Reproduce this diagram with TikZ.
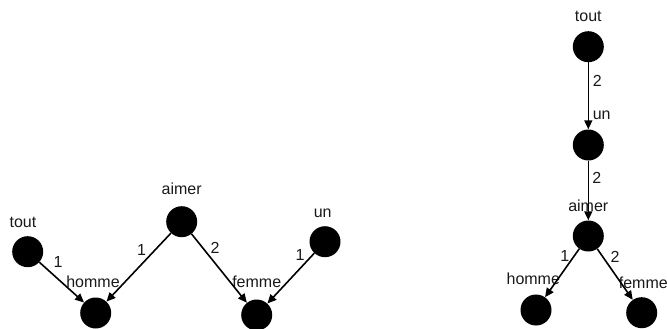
\documentclass[tikz,border=0pt]{standalone}
\usepackage{fontspec}
\setmainfont{Liberation Sans}
\usetikzlibrary{arrows.meta}

\tikzset{
  vertex/.style={circle, fill=black, minimum size=31pt, inner sep=0pt},
  lbl/.style={inner sep=0pt, font=\fontsize{16}{16}\selectfont, text=black!90},
  arr/.style={line width=1.6pt, -{Triangle[length=9pt,width=8pt]}},
  elab/.style={inner sep=0pt, font=\fontsize{16}{16}\selectfont, text=black!90},
}

\begin{document}
\begin{tikzpicture}[x=1pt, y=-1pt]
  \useasboundingbox (0,0) rectangle (667,329);

  % left graph
  \node[vertex, label={[lbl, label distance=8pt, xshift=-4.7pt]above:tout}]  (toutL)  at (27.7,251.7) {};
  \node[vertex, label={[lbl, label distance=9pt, xshift=-2.7pt]above:homme}] (hommeL) at (95.7,313) {};
  \node[vertex, label={[lbl, label distance=11pt]above:aimer}]               (aimerL) at (181.7,221.7) {};
  \node[vertex, label={[lbl, label distance=11pt]above:femme}]               (femmeL) at (256.7,315) {};
  \node[vertex, label={[lbl, label distance=8pt, xshift=-2.3pt]above:un}]    (unL)    at (325,241.7) {};

  \draw[arr] (toutL)  -- node[elab, pos=0.23, xshift=8.5pt,  yshift=9.4pt] (l1) {1} (hommeL);
  \draw[arr] (aimerL) -- node[elab, pos=0.345, xshift=-7pt, yshift=6.7pt] (l2) {1} (hommeL);
  \draw[arr] (aimerL) -- node[elab, pos=0.29, xshift=7.4pt,  yshift=6pt]   (l3) {2} (femmeL);
  \draw[arr] (unL)    -- node[elab, pos=0.16, xshift=-6.7pt, yshift=6.3pt] (l4) {1} (femmeL);

  % right graph
  \node[vertex, label={[lbl, label distance=9pt]above:tout}]                 (toutR)  at (588.3,46.7) {};
  \node[vertex, label={[lbl, label distance=9pt, xshift=13.4pt]above:un}]    (unR)    at (588.3,145) {};
  \node[vertex, label={[lbl, label distance=8.5pt]above:aimer}]              (aimerR) at (588.3,236) {};
  \node[vertex, label={[lbl, label distance=9pt, xshift=-2.7pt]above:homme}] (hommeR) at (536,310) {};
  \node[vertex, label={[lbl, label distance=8.5pt, xshift=1.6pt]above:femme}] (femmeR) at (641.7,312.7) {};

  \draw[arr] (toutR)  -- node[elab, pos=0.28, xshift=9pt]                  (r1) {2} (unR);
  \draw[arr] (unR)    -- node[elab, pos=0.29, xshift=8.4pt]                (r2) {2} (aimerR);
  \draw[arr] (aimerR) -- node[elab, pos=0.24, xshift=-6.1pt, yshift=4.4pt] (r3) {1} (hommeR);
  \draw[arr] (aimerR) -- node[elab, pos=0.275, xshift=8pt,   yshift=5.5pt] (r4) {2} (femmeR);
\end{tikzpicture}
\end{document}
